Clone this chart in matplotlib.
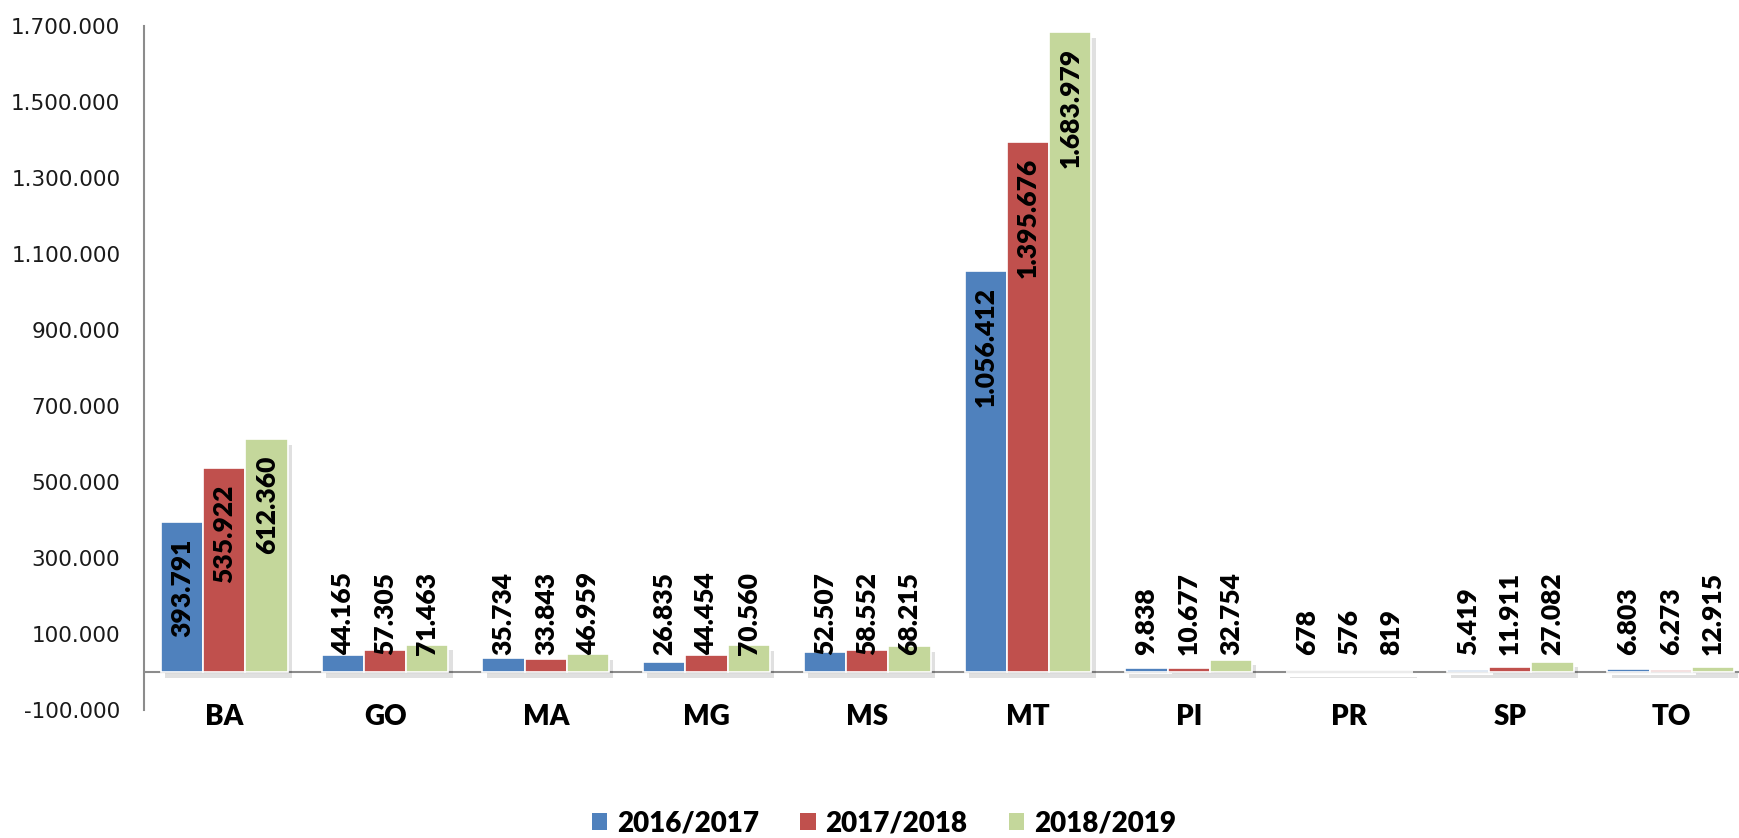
import matplotlib
matplotlib.use("Agg")
import matplotlib.pyplot as plt
import numpy as np
from matplotlib import patheffects as pe
from matplotlib.patches import Patch

categories = ['BA', 'GO', 'MA', 'MG', 'MS', 'MT', 'PI', 'PR', 'SP', 'TO']
series_names = ['2016/2017', '2017/2018', '2018/2019']
v2016 = [393791, 44165, 35734, 26835, 52507, 1056412, 9838, 678, 5419, 6803]
v2017 = [535922, 57305, 33843, 44454, 58552, 1395676, 10677, 576, 11911, 6273]
v2018 = [612360, 71463, 46959, 70560, 68215, 1683979, 32754, 819, 27082, 12915]
yticks = [-100000, 100000, 300000, 500000, 700000, 900000,
          1100000, 1300000, 1500000, 1700000]
colors = ['#4F81BD', '#C0504D', '#C4D79B']

def fmt(v):
    return f"{v:,}".replace(',', '.')

LABEL_FONT = ['Lato', 'DejaVu Sans']
HEAVY = 'heavy'

fig = plt.figure(figsize=(17.4, 8.38), dpi=100)
fig.patch.set_facecolor('white')
ax = fig.add_axes([144 / 1740, 128 / 838, (1740 - 144) / 1740, 684 / 838])

x = np.arange(len(categories))
w = 0.263
series = [v2016, v2017, v2018]
for k, (vals, c) in enumerate(zip(series, colors)):
    xs = x + (k - 1) * w
    ax.bar(xs, vals, w, color=c, edgecolor='white', linewidth=1.2, zorder=3,
           path_effects=[pe.SimplePatchShadow(offset=(3, -4), shadow_rgbFace='k', alpha=0.12),
                         pe.Normal()])
    for xi, v in zip(xs, vals):
        if v > 300000:
            ax.annotate(fmt(v), xy=(xi, v), xytext=(0, -11.5), textcoords='offset points',
                        rotation=90, ha='center', va='top', fontsize=19,
                        fontweight=HEAVY, family=LABEL_FONT, color='black', zorder=5)
        else:
            ax.annotate(fmt(v), xy=(xi, 0), xytext=(0, 12), textcoords='offset points',
                        rotation=90, ha='center', va='bottom', fontsize=19,
                        fontweight=HEAVY, family=LABEL_FONT, color='black', zorder=5)

ax.axhline(0, color='#8c8c8c', lw=1.5, zorder=2)
ax.set_xlim(-0.5, 9.43)
ax.set_ylim(-100000, 1700000)

ax.set_yticks(yticks)
ax.set_yticklabels([fmt(t) for t in yticks], family=['DejaVu Sans'], fontsize=15.5, color='#1a1a1a')
ax.tick_params(axis='y', length=0, pad=17)

ax.set_xticks(x)
ax.set_xticklabels(categories, family=LABEL_FONT, fontweight=HEAVY, fontsize=20, color='black')
ax.tick_params(axis='x', length=0, pad=-4)

for s in ['top', 'right', 'bottom']:
    ax.spines[s].set_visible(False)
ax.spines['left'].set_color('#8c8c8c')
ax.spines['left'].set_linewidth(1.5)
ax.set_facecolor('white')

handles = [Patch(facecolor=c, edgecolor='none') for c in colors]
fig.legend(handles, series_names, loc='center', bbox_to_anchor=(884 / 1740, 15 / 838),
           ncol=3, frameon=False, handlelength=0.55, handleheight=0.55,
           handletextpad=0.35, columnspacing=1.5, borderpad=0, borderaxespad=0,
           prop={'family': LABEL_FONT, 'weight': HEAVY, 'size': 20})

fig.savefig('out.png', dpi=100, facecolor='white')
